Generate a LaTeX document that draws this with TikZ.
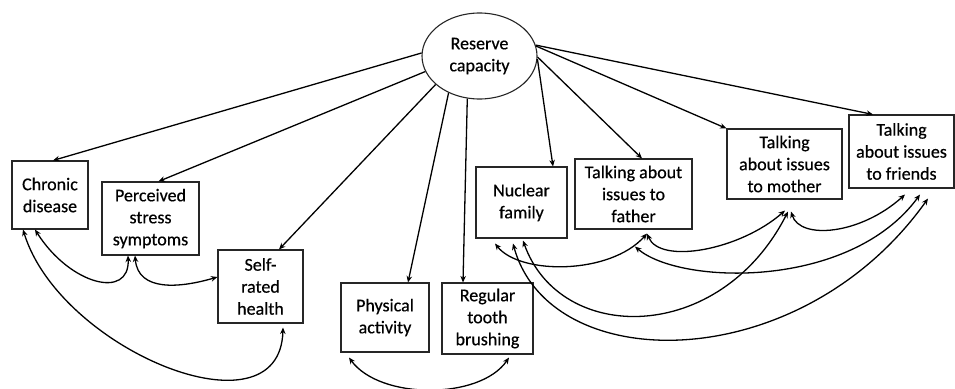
\documentclass[tikz,border=0pt]{standalone}
\usepackage{fontspec}
\setmainfont{Carlito}
\newfontfamily\labelfont{Carlito}[FakeBold=0.5]
\usetikzlibrary{arrows.meta,calc,shapes.geometric}

\begin{document}
\begin{tikzpicture}[x=1pt,y=-1pt,
  box/.style={draw=black!85, line width=1.1pt, inner sep=0pt, align=center,
              font=\labelfont\fontsize{18}{22}\selectfont},
  link/.style={line width=1.3pt, -{Stealth[length=6.5pt,width=5.5pt]}},
  corr/.style={line width=1.3pt, {Stealth[length=6.5pt,width=5.5pt]}-{Stealth[length=6.5pt,width=5.5pt]}}]
\useasboundingbox (0,0) rectangle (955,388);

% latent factor
\node[box, ellipse, minimum width=115pt, minimum height=86pt] (rc) at (479.5,56) {Reserve\\capacity};

% indicators
\node[box, minimum width=76pt,  minimum height=68pt] (chronic)    at (50,195)      {Chronic\\disease};
\node[box, minimum width=97pt,  minimum height=73pt] (perceived)  at (150.5,218.5) {Perceived\\stress\\symptoms};
\node[box, minimum width=85pt,  minimum height=73pt] (selfrated)  at (260.5,286.5) {Self-\\rated\\health};
\node[box, minimum width=88pt,  minimum height=69pt] (physical)   at (385,317.5)   {Physical\\activity};
\node[box, minimum width=91pt,  minimum height=71pt] (regular)    at (487.5,318.5) {Regular\\tooth\\brushing};
\node[box, minimum width=91pt,  minimum height=71pt] (nuclear)    at (521.5,202.5) {Nuclear\\family};
\node[box, minimum width=117pt, minimum height=70pt] (father)     at (633.5,194)   {Talking about\\issues to\\father};
\node[box, minimum width=115pt, minimum height=70pt] (mother)     at (784.5,164)   {Talking\\about issues\\to mother};
\node[box, minimum width=105pt, minimum height=73pt] (friends)    at (901.5,151.5) {Talking\\about issues\\to friends};

% loadings
\draw[link] (rc.177) -- ([xshift=3pt]chronic.north);
\draw[link] (rc.196) -- ([xshift=8pt]perceived.north);
\draw[link] (rc.213) -- ([xshift=18.5pt]selfrated.north);
\draw[link] (rc.230) -- ([xshift=23pt]physical.north);
\draw[link] (rc.254) -- ([xshift=-24.5pt]regular.north);
\draw[link] (rc.-3)  -- ([xshift=31.5pt]nuclear.north);
\draw[link] (rc.-1)  -- ([xshift=8.5pt]father.north);
\draw[link] (rc.10)  -- (mother.north west);
\draw[link] (rc.11)  -- ([xshift=-28.5pt]friends.north);

% residual correlations
\draw[corr] ([xshift=-15pt]chronic.south) .. controls (70,285) and (130,300) .. ([xshift=-22.5pt]perceived.south);
\draw[corr] ([xshift=-15.5pt]perceived.south) .. controls (138,292) and (180,288) .. ([yshift=9.5pt]selfrated.west);
\draw[corr] ([xshift=-27pt]chronic.south) .. controls (60,350) and (280,440) .. ([shift={(22.5,4)}]selfrated.south);
\draw[corr] ([shift={(-36,5)}]physical.south) .. controls (380,400) and (480,400) .. ([shift={(21.5,3)}]regular.south);

\draw[corr] ([shift={(-26.5,5)}]nuclear.south) .. controls (520,275) and (610,275) .. ([shift={(13.5,4)}]father.south);
\draw[corr] ([shift={(1.5,2)}]nuclear.south) .. controls (560,345) and (720,345) .. ([shift={(3.5,12)}]mother.south);
\draw[corr] ([shift={(-8.5,5)}]nuclear.south) .. controls (550,378) and (800,378) .. ([shift={(26.5,10)}]friends.south);
\draw[corr] ([shift={(13.5,4)}]father.south) .. controls (660,265) and (740,250) .. ([shift={(0.5,11)}]mother.south);
\draw[corr] ([shift={(6.5,12)}]mother.south) .. controls (800,240) and (860,235) .. ([shift={(3.5,6)}]friends.south);
\draw[corr] ([shift={(1.5,17)}]father.south) .. controls (680,285) and (850,290) .. ([shift={(18.5,6)}]friends.south);
\end{tikzpicture}
\end{document}
